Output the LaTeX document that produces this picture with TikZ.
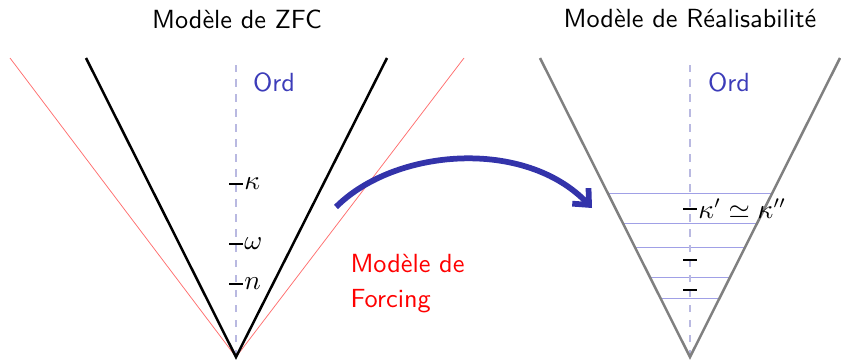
\documentclass[tikz,border=0pt]{standalone}
\usetikzlibrary{arrows.meta}
\definecolor{ordblue}{RGB}{60,60,185}
\definecolor{arrblue}{RGB}{51,51,170}
\definecolor{lvl}{RGB}{160,160,230}
\definecolor{axis}{RGB}{185,185,225}
\definecolor{lred}{RGB}{255,110,110}
\begin{document}
\begin{tikzpicture}[x=0.4pt,y=-0.4pt,font=\sffamily\fontsize{10.5}{13}\selectfont,
  axisline/.style={axis,dashed,line width=0.6pt},
  tick/.style={black,line width=0.5pt},
  zfc/.style={black,line width=1pt},
  real/.style={gray,line width=1pt},
  forc/.style={lred,line width=0.3pt},
  level/.style={lvl,line width=0.4pt},
  lab/.style={inner sep=0.3pt,anchor=west}]
\useasboundingbox (0,0) rectangle (841,360);
% titles
\node (t1) at (237,19) {Modèle de ZFC};
\node (t2) at (690,19) {Modèle de Réalisabilité};
% left model
\coordinate (A) at (236,357);
\coordinate (Atop) at (236,65);
\coordinate (BL) at (86,58);
\coordinate (BR) at (387,58);
\coordinate (RL) at (10,58);
\coordinate (RR) at (464,58);
\draw[forc] (RL) -- (A) -- (RR);
\draw[axisline] (A) -- (Atop);
\draw[zfc] (BL) -- (A) -- (BR);
\node[text=ordblue] (o1) at (274,82) {Ord};
\foreach \y/\l/\n in {184/\kappa/k, 244/\omega/w, 284/n/n}{
  \coordinate (tl\n) at (229,\y);
  \coordinate (tr\n) at (243,\y);
  \draw[tick] (tl\n) -- (tr\n);
  \node[lab] (l\n) at (tr\n) {$\l$};
}
\node[text=red,align=left,anchor=north west,inner sep=0pt] (forcing) at (350,254) {Modèle de\\[1pt]Forcing};
% right model
\coordinate (B) at (690,357);
\coordinate (Btop) at (690,65);
\coordinate (GL) at (540,58);
\coordinate (GR) at (840,58);
\foreach \y/\n in {193/a,223/b,247/c,277/d,298/e}{
  \pgfmathsetmacro{\dx}{(357-\y)*0.50167}
  \coordinate (h\n l) at ({690-\dx},\y);
  \coordinate (h\n r) at ({690+\dx},\y);
  \draw[level] (h\n l) -- (h\n r);
}
\draw[axisline] (B) -- (Btop);
\draw[real] (GL) -- (B) -- (GR);
\node[text=ordblue] (o2) at (729,82) {Ord};
\foreach \y/\n in {209/a,260/b,290/c}{
  \coordinate (ul\n) at (683,\y);
  \coordinate (ur\n) at (697,\y);
  \draw[tick] (ul\n) -- (ur\n);
}
\node[lab] (kk) at (ura) {$\kappa'\simeq\kappa''$};
% arrow
\coordinate (as) at (336,207);
\coordinate (ae) at (592,208);
\draw[arrblue,line width=2.3pt,-{Straight Barb[length=5pt,width=9pt]}] (as) .. controls (395,148) and (525,138) .. (ae);
\end{tikzpicture}
\end{document}
